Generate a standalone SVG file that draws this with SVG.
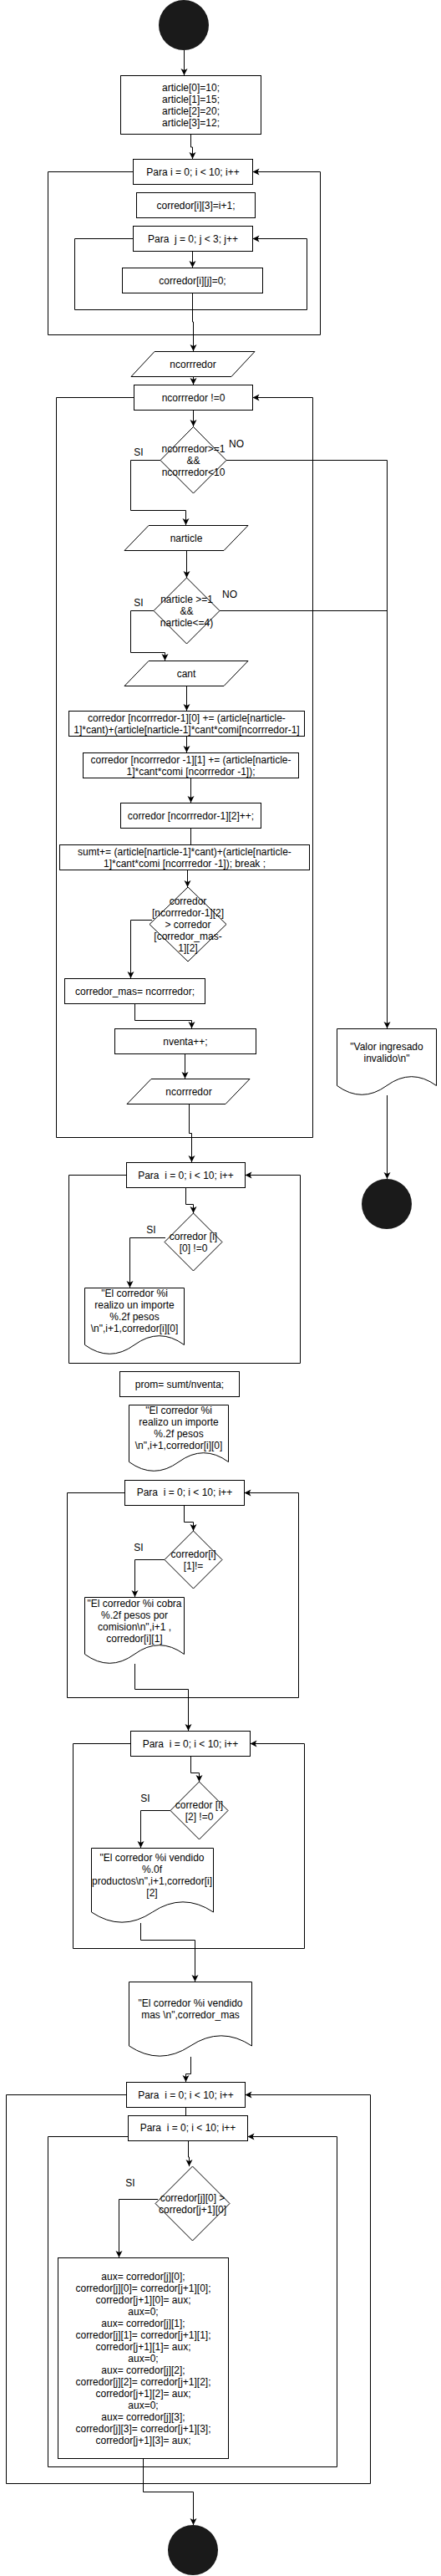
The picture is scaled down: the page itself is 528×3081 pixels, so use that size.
<svg xmlns="http://www.w3.org/2000/svg" width="528" height="3081" viewBox="0 0 528 3081">
<defs>
<marker id="arr" markerUnits="userSpaceOnUse" markerWidth="10" markerHeight="10" refX="8" refY="4" orient="auto">
<path d="M0,0 L8,4 L0,8 L2,4 Z" fill="#000"/>
</marker>
<style>
.n{fill:#fff;stroke:#000;stroke-width:1}
.term{fill:#1a1a1a;stroke:none}
.c{fill:none;stroke:#000;stroke-width:1}
.a{marker-end:url(#arr)}
text{font-family:"Liberation Sans",Arial,sans-serif;font-size:12px;fill:#000;text-anchor:middle;dominant-baseline:central}
</style>
</defs>
<rect width="528" height="3081" fill="#fff"/>

<g id="connectors">
<path class="c a" d="M220.5,60 V90"/>
<path class="c a" d="M228.5,160.5 V176 H230.5 V190"/>
<path class="c a" d="M159.5,205.5 H57.5 V400.5 H383.5 V205.5 H302.5"/>
<path class="c a" d="M230.5,300.5 V320"/>
<path class="c a" d="M159.5,285.5 H89.5 V370.5 H367.5 V285.5 H302.5"/>
<path class="c a" d="M230.5,350.5 V385 H231.5 V420"/>
<path class="c a" d="M231.5,450.5 V460"/>
<path class="c a" d="M160.5,475.5 H67.5 V1360.5 H374.5 V475.5 H302.5"/>
<path class="c a" d="M231.5,490.5 V510"/>
<path class="c a" d="M192,550.5 H156.5 V610.5 H222.5 V628"/>
<path class="c a" d="M271,550.5 H463.5 V1230"/>
<path class="c a" d="M223.5,658.5 V691"/>
<path class="c" d="M263,730.5 H463.5"/>
<path class="c a" d="M184,730.5 H156.5 V780.5 H197.5 V790"/>
<path class="c a" d="M223.5,820.5 V850"/>
<path class="c a" d="M223.5,880.5 V900"/>
<path class="c a" d="M228.5,930.5 V960"/>
<path class="c" d="M228.5,990.5 V1010"/>
<path class="c a" d="M224.5,1040.5 V1061"/>
<path class="c a" d="M182,1100.5 H156.5 V1170"/>
<path class="c a" d="M161.5,1200.5 V1220.5 H229.5 V1230"/>
<path class="c a" d="M221.5,1260.5 V1290"/>
<path class="c a" d="M226.5,1320.5 V1355.5 H229.5 V1390"/>
<path class="c a" d="M463.5,1310 V1410"/>
<path class="c a" d="M151.5,1405.5 H82.5 V1630.5 H359.5 V1405.5 H293.5"/>
<path class="c a" d="M222.5,1420.5 V1440.5 H231.5 V1451"/>
<path class="c a" d="M198,1480.5 H155.5 V1540"/>
<path class="c a" d="M149.5,1785.5 H80.5 V2030.5 H357.5 V1785.5 H292.5"/>
<path class="c a" d="M220.5,1800.5 V1820.5 H231.5 V1831"/>
<path class="c a" d="M197,1865.5 H161.5 V1910"/>
<path class="c a" d="M161.5,1990 V2020.5 H225.5 V2070"/>
<path class="c a" d="M156.5,2085.5 H87.5 V2330.5 H364.5 V2085.5 H299.5"/>
<path class="c a" d="M228.5,2100.5 V2120.5 H238.5 V2131"/>
<path class="c a" d="M204,2165.5 H168.5 V2210"/>
<path class="c a" d="M168.5,2300 V2320.5 H233.5 V2370"/>
<path class="c a" d="M228.5,2460 V2480.5 H222.5 V2490"/>
<path class="c a" d="M151.5,2505.5 H7.5 V2970.5 H443.5 V2505.5 H293.5"/>
<path class="c" d="M222.5,2520.5 V2530.5"/>
<path class="c a" d="M153.5,2555.5 H57.5 V2950.5 H403.5 V2555.5 H296.5"/>
<path class="c a" d="M225.5,2560.5 V2580 H226.5 V2591"/>
<path class="c a" d="M189,2630.5 H142.5 V2700"/>
<path class="c a" d="M171.5,2940.5 V2980.5 H231.5 V3020"/>
</g>
<g id="labels">
<text x="166" y="541">SI</text>
<text x="283" y="531">NO</text>
<text x="166" y="721">SI</text>
<text x="275" y="711">NO</text>
<text x="181" y="1471">SI</text>
<text x="166" y="1851">SI</text>
<text x="174" y="2151">SI</text>
<text x="156" y="2611">SI</text>
</g>

<g id="start"><circle class="term" cx="220" cy="30" r="30"/></g>
<g id="init_article"><rect class="n" x="144.5" y="90.5" width="168" height="70"/>
<text x="228.5" y="105">article[0]=10;</text><text x="228.5" y="119">article[1]=15;</text><text x="228.5" y="133">article[2]=20;</text><text x="228.5" y="147">article[3]=12;</text></g>
<g id="for_i1"><rect class="n" x="159.5" y="190.5" width="143" height="30"/><text x="231" y="206">Para i = 0; i &lt; 10; i++</text></g>
<g id="set_c3"><rect class="n" x="163.5" y="230.5" width="142" height="30"/><text x="234.5" y="246">corredor[i][3]=i+1;</text></g>
<g id="for_j1"><rect class="n" x="159.5" y="270.5" width="143" height="30"/><text x="231" y="286" xml:space="preserve">Para  j = 0; j &lt; 3; j++</text></g>
<g id="set_cij"><rect class="n" x="146.5" y="320.5" width="168" height="30"/><text x="230.5" y="336">corredor[i][j]=0;</text></g>
<g id="in_ncorr1"><polygon class="n" points="185,420.5 305,420.5 277,450.5 157,450.5"/><text x="231" y="436">ncorrredor</text></g>
<g id="while_ncorr"><rect class="n" x="160.5" y="460.5" width="142" height="30"/><text x="231.5" y="476">ncorrredor !=0</text></g>
<g id="dec_ncorr"><polygon class="n" points="231.5,510.5 271,550.5 231.5,590 192,550.5"/>
<text x="231.5" y="537">ncorrredor&gt;=1</text><text x="231.5" y="551">&amp;&amp;</text><text x="231.5" y="565">ncorrredor&lt;10</text></g>
<g id="in_narticle"><polygon class="n" points="178,628.5 297,628.5 268,658.5 149,658.5"/><text x="223" y="644">narticle</text></g>
<g id="dec_narticle"><polygon class="n" points="223.5,691 263,730.5 223.5,770 184,730.5"/>
<text x="223.5" y="717">narticle &gt;=1</text><text x="223.5" y="731">&amp;&amp;</text><text x="223.5" y="745">narticle&lt;=4)</text></g>
<g id="in_cant"><polygon class="n" points="178,790.5 297,790.5 268,820.5 149,820.5"/><text x="223" y="806">cant</text></g>
<g id="upd_c0"><rect class="n" x="82.5" y="850.5" width="282" height="30"/>
<text x="223.5" y="859">corredor [ncorrredor-1][0] += (article[narticle-</text><text x="223.5" y="873">1]*cant)+(article[narticle-1]*cant*comi[ncorrredor-1]</text></g>
<g id="upd_c1"><rect class="n" x="99.5" y="900.5" width="258" height="30"/>
<text x="228.5" y="909">corredor [ncorrredor -1][1] += (article[narticle-</text><text x="228.5" y="923">1]*cant*comi [ncorrredor -1]);</text></g>
<g id="upd_c2"><rect class="n" x="144.5" y="960.5" width="168" height="30"/><text x="228.5" y="976">corredor [ncorrredor-1][2]++;</text></g>
<g id="upd_sumt"><rect class="n" x="71.5" y="1010.5" width="299" height="30"/>
<text x="221" y="1019">sumt+= (article[narticle-1]*cant)+(article[narticle-</text><text x="221" y="1033">1]*cant*comi [ncorrredor -1]); break ;</text></g>
<g id="dec_mas"><polygon class="n" points="225,1061 271,1105.5 225,1150 179,1105.5"/>
<text x="225" y="1078">corredor</text><text x="225" y="1092">[ncorrredor-1][2]</text><text x="225" y="1106">&gt; corredor</text><text x="225" y="1120">[corredor_mas-</text><text x="225" y="1134">1][2]</text></g>
<g id="set_mas"><rect class="n" x="77.5" y="1170.5" width="168" height="30"/><text x="161.5" y="1186">corredor_mas= ncorrredor;</text></g>
<g id="inc_nventa"><rect class="n" x="137.5" y="1230.5" width="169" height="30"/><text x="222" y="1246">nventa++;</text></g>
<g id="in_ncorr2"><polygon class="n" points="181,1290.5 299,1290.5 270,1320.5 152,1320.5"/><text x="226" y="1306">ncorrredor</text></g>
<g id="out_invalid"><path class="n" d="M403.5,1230.5 H522.5 V1298.5 Q492.75,1276.9 463,1298.5 Q433.25,1320.1 403.5,1298.5 Z"/>
<text x="463" y="1252">"Valor ingresado</text><text x="463" y="1266">invalido\n"</text></g>
<g id="end1"><circle class="term" cx="463" cy="1440" r="30"/></g>
<g id="for_i3"><rect class="n" x="151.5" y="1390.5" width="142" height="30"/><text x="222.5" y="1406" xml:space="preserve">Para  i = 0; i &lt; 10; i++</text></g>
<g id="dec_c0"><polygon class="n" points="231.5,1451 266,1485.5 231.5,1520 197,1485.5"/>
<text x="231.5" y="1479">corredor [i]</text><text x="231.5" y="1493">[0] !=0</text></g>
<g id="out_importe1"><path class="n" d="M101.5,1540.5 H220.5 V1608.5 Q190.75,1586.9 161,1608.5 Q131.25,1630.1 101.5,1608.5 Z"/>
<text x="161" y="1547">"El corredor %i</text><text x="161" y="1561">realizo un importe</text><text x="161" y="1575">%.2f pesos</text><text x="161" y="1589">\n",i+1,corredor[i][0]</text></g>
<g id="set_prom"><rect class="n" x="143.5" y="1640.5" width="143" height="30"/><text x="215" y="1656">prom= sumt/nventa;</text></g>
<g id="out_importe2"><path class="n" d="M154.5,1680.5 H273.5 V1748.5 Q243.75,1726.9 214,1748.5 Q184.25,1770.1 154.5,1748.5 Z"/>
<text x="214" y="1687">"El corredor %i</text><text x="214" y="1701">realizo un importe</text><text x="214" y="1715">%.2f pesos</text><text x="214" y="1729">\n",i+1,corredor[i][0]</text></g>
<g id="for_i4"><rect class="n" x="149.5" y="1770.5" width="143" height="30"/><text x="221" y="1785" xml:space="preserve">Para  i = 0; i &lt; 10; i++</text></g>
<g id="dec_c1"><polygon class="n" points="231.5,1831 266,1865.5 231.5,1900 197,1865.5"/>
<text x="231.5" y="1859">corredor[i]</text><text x="231.5" y="1873">[1]!=</text></g>
<g id="out_comision"><path class="n" d="M101.5,1910.5 H220.5 V1978.5 Q190.75,1956.9 161,1978.5 Q131.25,2000.1 101.5,1978.5 Z"/>
<text x="161" y="1918">"El corredor %i cobra</text><text x="161" y="1932">%.2f pesos por</text><text x="161" y="1946">comision\n",i+1 ,</text><text x="161" y="1960">corredor[i][1]</text></g>
<g id="for_i5"><rect class="n" x="156.5" y="2070.5" width="143" height="30"/><text x="228" y="2086" xml:space="preserve">Para  i = 0; i &lt; 10; i++</text></g>
<g id="dec_c2"><polygon class="n" points="238.5,2131 273,2165.5 238.5,2200 204,2165.5"/>
<text x="238.5" y="2159">corredor [i]</text><text x="238.5" y="2173">[2] !=0</text></g>
<g id="out_vendido"><path class="n" d="M109.5,2210.5 H255.5 V2287 Q219,2262.7 182.5,2287 Q146,2311.3 109.5,2287 Z"/>
<text x="182" y="2222">"El corredor %i vendido</text><text x="182" y="2236">%.0f</text><text x="182" y="2250">productos\n",i+1,corredor[i]</text><text x="182" y="2264">[2]</text></g>
<g id="out_mas"><path class="n" d="M154.5,2370.5 H301.5 V2447 Q264.75,2422.7 228,2447 Q191.25,2471.3 154.5,2447 Z"/>
<text x="228" y="2396">"El corredor %i vendido</text><text x="228" y="2410">mas \n",corredor_mas</text></g>
<g id="for_i6"><rect class="n" x="151.5" y="2490.5" width="142" height="30"/><text x="222.5" y="2506" xml:space="preserve">Para  i = 0; i &lt; 10; i++</text></g>
<g id="for_i7"><rect class="n" x="153.5" y="2530.5" width="143" height="30"/><text x="225" y="2545" xml:space="preserve">Para  i = 0; i &lt; 10; i++</text></g>
<g id="dec_swap"><polygon class="n" points="230.5,2591 275,2635.5 230.5,2680 186,2635.5"/>
<text x="230.5" y="2629">corredor[j][0] &gt;</text><text x="230.5" y="2643">corredor[j+1][0]</text></g>
<g id="swap"><rect class="n" x="69.5" y="2700.5" width="204" height="240"/>
<text x="171.5" y="2723">aux= corredor[j][0];</text>
<text x="171.5" y="2737">corredor[j][0]= corredor[j+1][0];</text>
<text x="171.5" y="2751">corredor[j+1][0]= aux;</text>
<text x="171.5" y="2765">aux=0;</text>
<text x="171.5" y="2779">aux= corredor[j][1];</text>
<text x="171.5" y="2793">corredor[j][1]= corredor[j+1][1];</text>
<text x="171.5" y="2807">corredor[j+1][1]= aux;</text>
<text x="171.5" y="2821">aux=0;</text>
<text x="171.5" y="2835">aux= corredor[j][2];</text>
<text x="171.5" y="2849">corredor[j][2]= corredor[j+1][2];</text>
<text x="171.5" y="2863">corredor[j+1][2]= aux;</text>
<text x="171.5" y="2877">aux=0;</text>
<text x="171.5" y="2891">aux= corredor[j][3];</text>
<text x="171.5" y="2905">corredor[j][3]= corredor[j+1][3];</text>
<text x="171.5" y="2919">corredor[j+1][3]= aux;</text></g>
<g id="end2"><circle class="term" cx="231" cy="3050" r="30"/></g>
</svg>
